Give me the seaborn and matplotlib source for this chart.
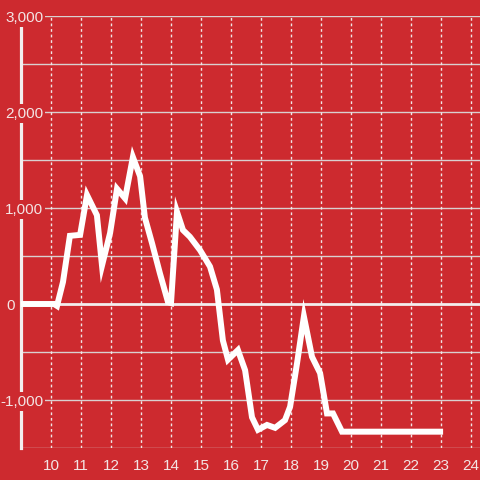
import matplotlib
matplotlib.use("Agg")
import matplotlib.pyplot as plt
import matplotlib.transforms as mtransforms
import seaborn as sns
import pandas as pd

hours = [9.0, 10.1, 10.2, 10.4, 10.63, 10.97, 11.2, 11.53, 11.7, 11.97, 12.2, 12.47,
         12.73, 12.97, 13.13, 13.37, 13.63, 13.9, 14.0, 14.2, 14.4, 14.63, 14.97,
         15.3, 15.53, 15.73, 15.9, 16.23, 16.47, 16.7, 16.9, 17.2, 17.47, 17.8,
         17.97, 18.2, 18.43, 18.7, 18.97, 19.2, 19.4, 19.7, 23.07]
values = [0, 0, -20, 230, 710, 720, 1135, 925, 400, 740, 1200, 1100,
          1530, 1330, 900, 630, 320, 20, 10, 960, 770, 700, 560,
          390, 150, -380, -580, -480, -690, -1180, -1310, -1260, -1290, -1210,
          -1070, -620, -130, -550, -720, -1140, -1140, -1330, -1330]

ytick_vals = [-1500, -1000, -500, 0, 500, 1000, 1500, 2000, 2500, 3000]
ytick_labels = ["", "-1,000", "", "0", "", "1,000", "", "2,000", "", "3,000"]
xtick_vals = list(range(10, 25))

BG = "#cd2a2f"
TXT = "#f3e4e4"

sns.set_style("white", rc={"axes.facecolor": BG, "figure.facecolor": BG})
plt.rcParams["font.family"] = ["Liberation Sans", "DejaVu Sans"]

fig = plt.figure(figsize=(4.8, 4.8), dpi=100)
ax = fig.add_axes([21 / 480, 32 / 480, 1 - 21 / 480, 432 / 480])
ax.set_facecolor(BG)

df = pd.DataFrame({"hour": hours, "value": values})

ax.set_xlim(9, 24.3)
ax.set_ylim(-1500, 3000)

for y in ytick_vals:
    if y == 0:
        continue
    ax.axhline(y, color="#d9d0d0", lw=1.0, zorder=1)
for x in xtick_vals:
    ax.axvline(x, color="#f0e6e6", lw=1.0, ls=(0, (2, 2)), zorder=1)
ax.axhline(0, color="#f3eeee", lw=2.0, zorder=2)

sns.lineplot(data=df, x="hour", y="value", ax=ax, color="white", lw=4.3,
             zorder=3, solid_joinstyle="miter", solid_capstyle="butt")

for s in ["top", "right", "bottom"]:
    ax.spines[s].set_visible(False)
ax.spines["left"].set_color("#f3eeee")
ax.spines["left"].set_linewidth(2.3)
ax.spines["left"].set_zorder(2)

ax.set_yticks(ytick_vals)
ax.set_yticklabels(ytick_labels)
ax.set_xticks(xtick_vals)
ax.set_xticklabels([str(v) for v in xtick_vals])
ax.tick_params(axis="y", length=0, pad=-16, labelsize=11, labelcolor=TXT)
ax.tick_params(axis="x", length=0, pad=8, labelsize=11, labelcolor=TXT)
for t in ax.get_yticklabels():
    t.set_bbox(dict(facecolor=BG, edgecolor="none", pad=1.5))
    if t.get_text() == "0":
        t.set_transform(t.get_transform() +
                        mtransforms.ScaledTranslation(-0.28, 0, fig.dpi_scale_trans))
ax.yaxis.set_zorder(6)
ax.xaxis.set_zorder(6)
ax.set_xlabel("")
ax.set_ylabel("")

fig.savefig("out.png", dpi=100, facecolor=BG)
